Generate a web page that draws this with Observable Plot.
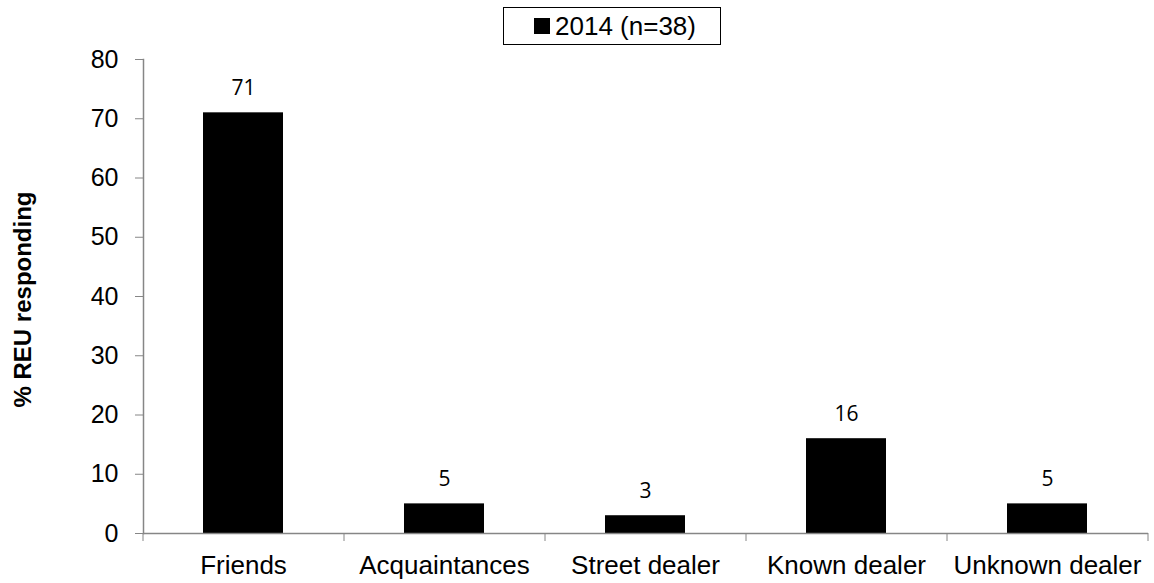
<!DOCTYPE html>
<html><head><meta charset="utf-8">
<script src="https://cdn.jsdelivr.net/npm/d3@7"></script>
<script src="https://cdn.jsdelivr.net/npm/@observablehq/plot@0.6"></script>
<style>
body{margin:0;background:#fff;}
#wrap{position:relative;width:1154px;height:583px;font-family:"Liberation Sans",Arial,sans-serif;}
#wrap svg{position:absolute;left:0;top:0;}
#legend{position:absolute;left:503px;top:7px;width:218px;height:38px;box-sizing:border-box;border:1.5px solid #000;display:flex;align-items:center;justify-content:center;font-size:26px;color:#000;background:#fff;z-index:2;}
#legend .sw{display:inline-block;width:16px;height:16px;background:#000;margin-right:5px;margin-left:6px;}
</style></head><body><div id="wrap"><div id="legend"></div></div>
<script>
const categories = ["Friends", "Acquaintances", "Street dealer", "Known dealer", "Unknown dealer"];
const values = [71, 5, 3, 16, 5];
const yTicks = [0, 10, 20, 30, 40, 50, 60, 70, 80];
const seriesName = "2014 (n=38)";
const yTitle = "% REU responding";

const data = categories.map((c, i) => ({category: c, value: values[i]}));

const W = 1154, H = 583, mL = 143, mR = 6, mT = 59, mB = 50;
const step = (W - mL - mR) / categories.length;
const gray = "#868686";

const chart = Plot.plot({
  width: W, height: H,
  marginLeft: mL, marginRight: mR, marginTop: mT, marginBottom: mB,
  style: {fontFamily: "'Liberation Sans', Arial, sans-serif", background: "#fff", overflow: "visible"},
  x: {type: "band", domain: categories, paddingInner: 0.6, paddingOuter: 0.3, axis: null},
  y: {domain: [0, 80], axis: null},
  marks: [
    Plot.barY(data, {x: "category", y: "value", fill: "#000"}),
    Plot.ruleY([0], {stroke: gray, strokeWidth: 1.5}),
    Plot.frame({anchor: "left", stroke: gray, strokeWidth: 1.5}),
    Plot.axisY({ticks: yTicks, tickSize: 8, tickPadding: 17, stroke: gray, fill: "#000", fontSize: 25, label: null, tickFormat: d => String(d)}),
    Plot.axisX({ticks: categories, tickSize: 8, dx: -step / 2, stroke: gray, tickFormat: () => "", label: null}),
    Plot.axisX({ticks: categories.slice(-1), tickSize: 8, dx: step / 2, stroke: gray, tickFormat: () => "", label: null}),
    Plot.axisX({ticks: categories, tickSize: 0, tickPadding: 22, fill: "#000", fontSize: 26, label: null}),
    Plot.text(data, {x: "category", y: "value", text: d => String(d.value), dy: -18, lineAnchor: "bottom", fontSize: 21, fontFamily: "'Open Sans', sans-serif", fill: "#000"}),
    Plot.text([yTitle], {frameAnchor: "left", textAnchor: "middle", lineAnchor: "middle", rotate: -90, dx: -120, dy: 3, fontWeight: "bold", fontSize: 24, fill: "#000"})
  ]
});

const wrap = document.getElementById("wrap");
wrap.insertBefore(chart, wrap.firstChild);
const legend = document.getElementById("legend");
legend.innerHTML = `<span class="sw"></span><span></span>`;
legend.lastChild.textContent = seriesName;
</script>
</body></html>
